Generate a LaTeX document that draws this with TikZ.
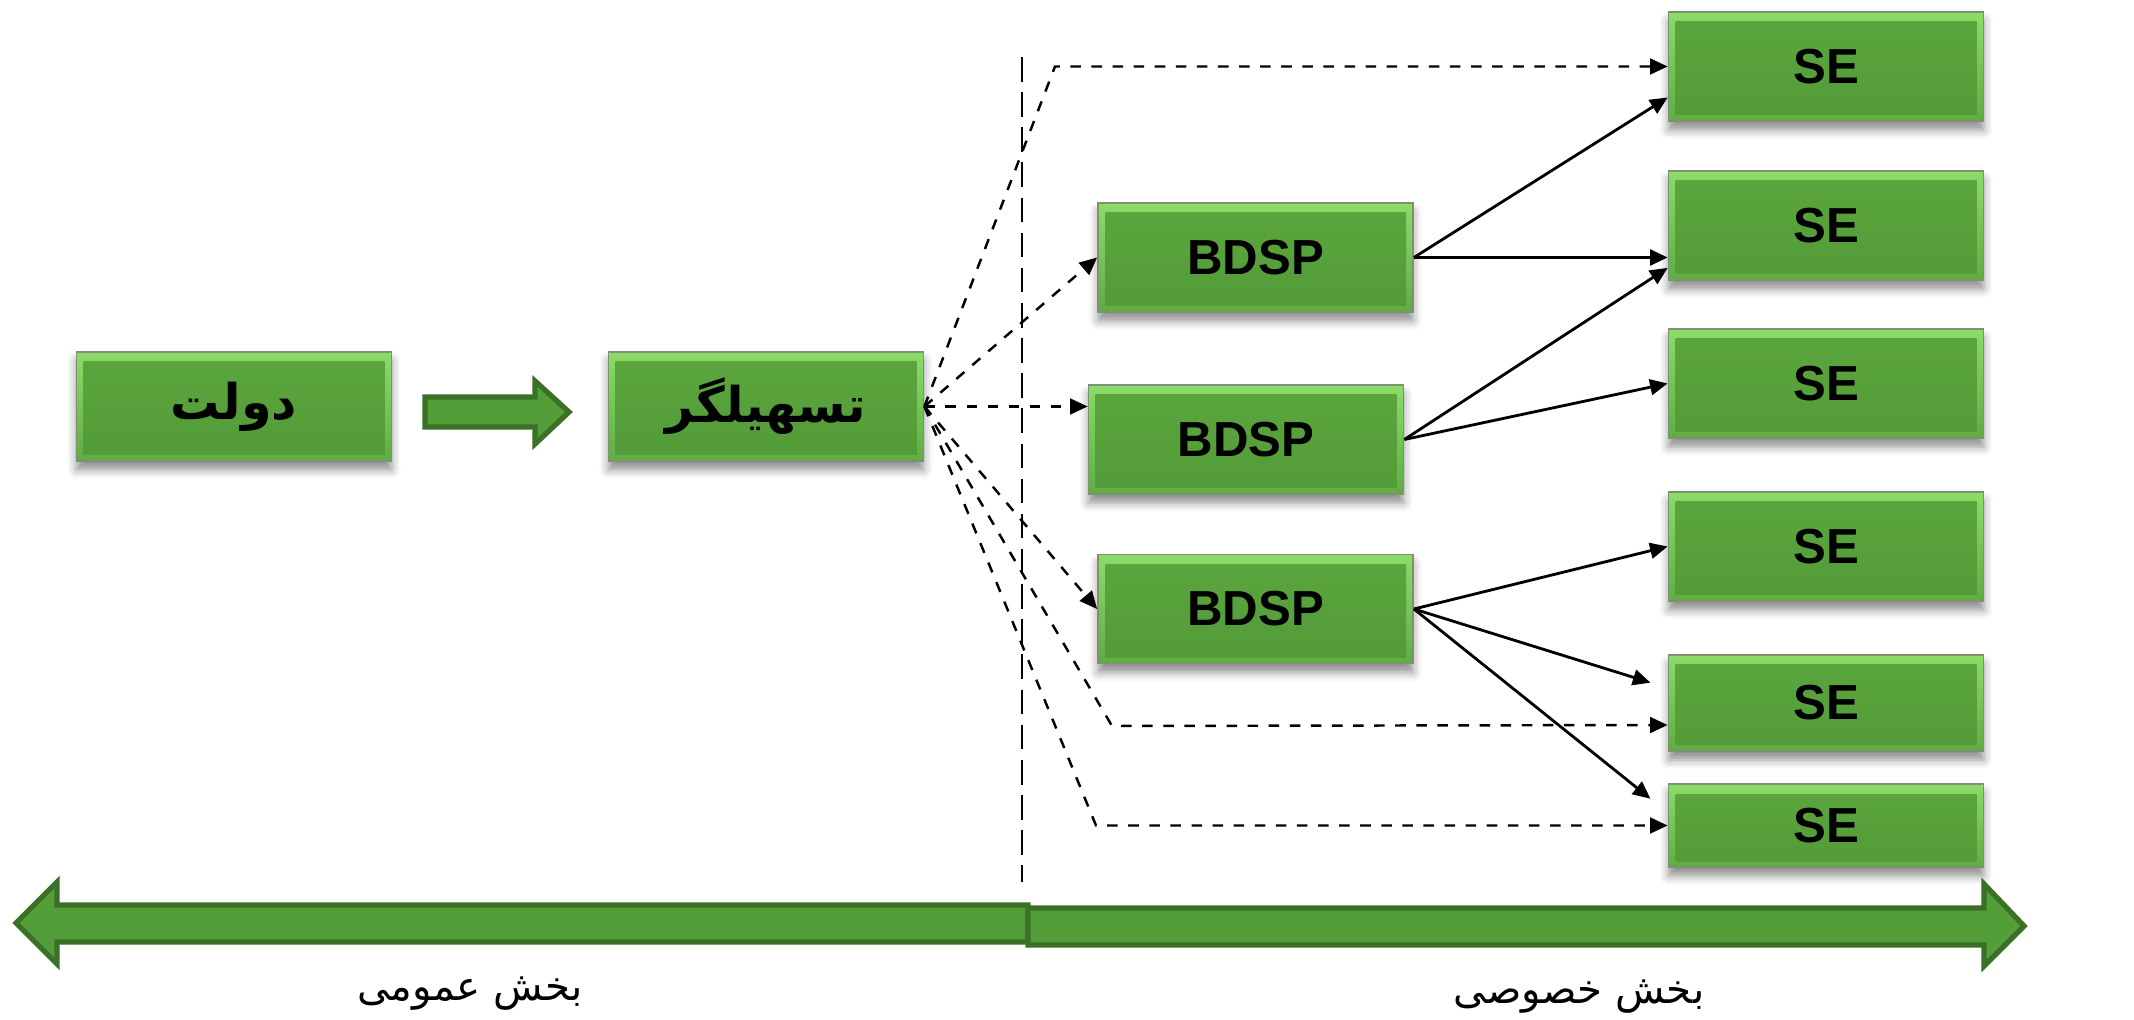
\documentclass[tikz,border=0pt]{standalone}
\usepackage{fontspec}
\setmainfont{Liberation Sans}
\newfontfamily\farsi[Script=Arabic]{DejaVu Sans}
\TeXXeTstate=1
\usetikzlibrary{arrows.meta,shadows.blur,calc}

\definecolor{boxgreen}{RGB}{82,155,56}
\definecolor{boxinner}{RGB}{92,166,62}
\definecolor{boxlight}{RGB}{140,220,105}
\definecolor{boxmid}{RGB}{96,172,66}
\definecolor{boxedge}{RGB}{125,145,115}
\definecolor{arrowgreen}{RGB}{84,158,57}
\definecolor{arrowdark}{RGB}{59,112,39}

\tikzset{
  greenbox/.style={draw=boxedge, line width=0.5pt, minimum width=3.15cm, minimum height=1.09cm, inner sep=0pt,
    top color=boxlight, bottom color=boxmid,
    blur shadow={shadow xshift=0pt, shadow yshift=-2.5pt, shadow blur radius=2.5pt, shadow opacity=45},
    path picture={\shade[top color=boxinner, bottom color=boxgreen]
      ($(path picture bounding box.north west)+(0.07,-0.1)$) rectangle ($(path picture bounding box.south east)+(-0.07,0.06)$);},
    font=\fontsize{14}{16}\selectfont\bfseries},
  link/.style={->, line width=0.8pt},
  dlink/.style={->, dashed, line width=0.7pt},
  blockarrow/.style={fill=arrowgreen, draw=arrowdark, line width=1.5pt, line join=miter},
  sectortext/.style={font=\fontsize{11.5}{14}\selectfont}
}

\begin{document}
\begin{tikzpicture}[>={Triangle[length=5pt,width=4.5pt]}]
  \useasboundingbox (0,0) rectangle (21.34,10.19);
  % boxes
  \node[greenbox] (gov) at (2.34,6.125) {\farsi\beginR دولت\endR};
  \node[greenbox] (fac) at (7.66,6.125) {\farsi\beginR تسهیلگر\endR};
  \node[greenbox] (bdsp1) at (12.555,7.615) {BDSP};
  \node[greenbox] (bdsp2) at (12.46,5.795) {BDSP};
  \node[greenbox] (bdsp3) at (12.555,4.10) {BDSP};
  \foreach \y [count=\i] in {9.525,7.935,6.355,4.725}
    \node[greenbox] (se\i) at (18.26,\y) {SE};
  \node[greenbox,minimum height=0.96cm] (se5) at (18.26,3.16) {SE};
  \node[greenbox,minimum height=0.83cm] (se6) at (18.26,1.935) {SE};

  % divider
  \draw[dash pattern=on 7pt off 3pt, line width=0.5pt] (10.22,9.62) -- (10.22,1.37);

  % facilitator links
  \draw[dlink] (fac.east) -- (10.55,9.525) -- (se1.west);
  \draw[dlink] (fac.east) -- (bdsp1.west);
  \draw[dlink] (fac.east) -- (fac.east -| bdsp2.west);
  \draw[dlink] (fac.east) -- (bdsp3.west);
  \draw[dlink] (fac.east) -- (11.12,2.93) -- ($(se5.west)+(0,-0.22)$);
  \draw[dlink] (fac.east) -- (10.96,1.935) -- (se6.west);

  % BDSP links
  \draw[link] (bdsp1.east) -- ($(se1.west)+(0,-0.31)$);
  \draw[link] (bdsp1.east) -- (bdsp1.east -| se2.west);
  \draw[link] (bdsp2.east) -- ($(se2.south west)+(0,0.13)$);
  \draw[link] (bdsp2.east) -- (se3.west);
  \draw[link] (bdsp3.east) -- (se4.west);
  \draw[link,shorten >=0.18cm] (bdsp3.east) -- ($(se5.west)+(0,0.15)$);
  \draw[link,shorten >=0.22cm] (bdsp3.east) -- ($(se6.west)+(0,0.13)$);

  % block arrows
  \draw[blockarrow] (4.25,6.22) -- (5.35,6.22) -- (5.35,6.38) -- (5.69,6.07) -- (5.35,5.75) -- (5.35,5.92) -- (4.25,5.92) -- cycle;
  \draw[blockarrow] (10.28,1.14) -- (0.57,1.14) -- (0.57,1.37) -- (0.16,0.96) -- (0.57,0.55) -- (0.57,0.77) -- (10.28,0.77) -- cycle;
  \draw[blockarrow] (10.28,1.11) -- (19.84,1.11) -- (19.84,1.35) -- (20.24,0.93) -- (19.84,0.53) -- (19.84,0.74) -- (10.28,0.74) -- cycle;

  % sectors
  \node[sectortext] (pub) at (4.70,0.25) {\farsi\beginR بخش عمومی\endR};
  \node[sectortext] (priv) at (15.79,0.22) {\farsi\beginR بخش خصوصی\endR};
\end{tikzpicture}
\end{document}
